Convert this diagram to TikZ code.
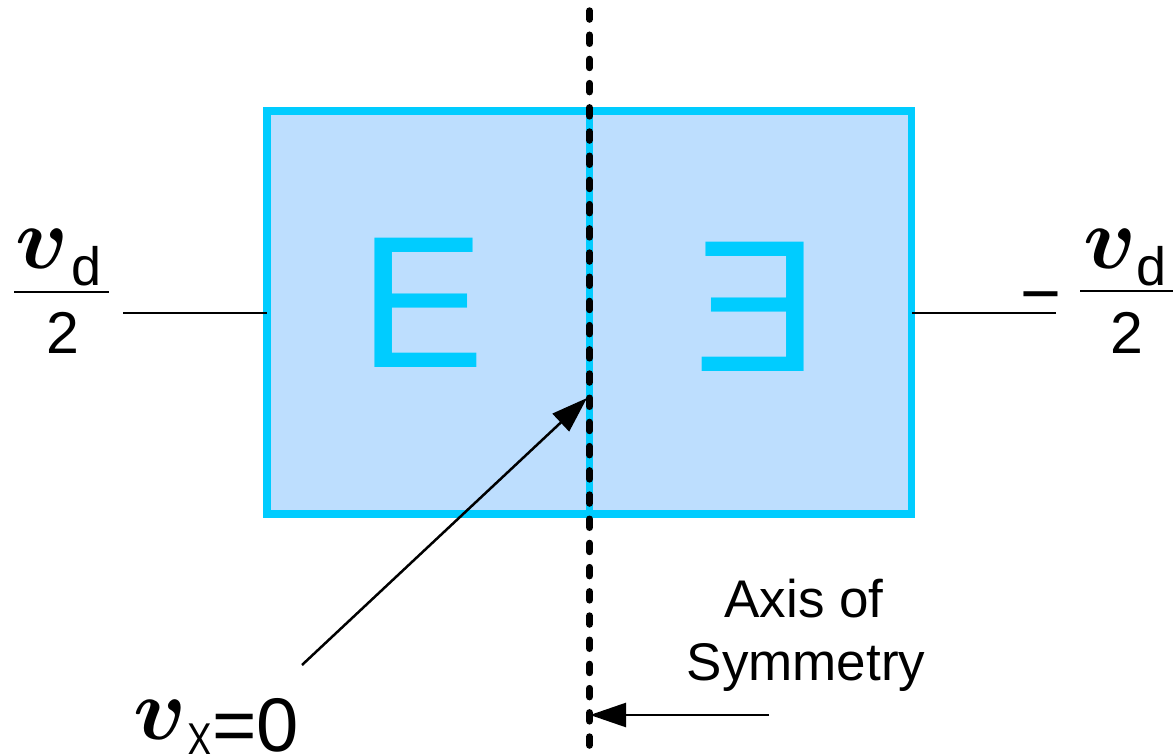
\documentclass[tikz,border=0pt]{standalone}
\usepackage{amsmath}
\usepackage{fontspec}
\setmainfont{Liberation Sans}
\usetikzlibrary{arrows.meta}
\definecolor{cyanline}{RGB}{0,204,255}
\definecolor{boxfill}{RGB}{189,222,254}
\newcommand{\bigv}{\scalebox{8.8}{$\boldsymbol{v}$}}
\begin{document}
\begin{tikzpicture}[x=1pt,y=-1pt,
  txt/.style={inner sep=0pt, outer sep=0pt},
  wire/.style={line width=2.5pt, black},
  ptr/.style={line width=2.5pt, -{Triangle[length=36pt,width=24pt]}},
  panel/.style={draw=cyanline, fill=boxfill, line width=7.5pt, minimum width=644.5pt, minimum height=403pt, inner sep=0pt, outer sep=0pt},
  axisline/.style={line width=7pt, black, line cap=round, dash pattern=on 8.5pt off 15.7pt},
  bigE/.style={txt, anchor=base, text=cyanline, font=\fontsize{188}{188}\selectfont},
  mathv/.style={txt, anchor=base west, font=\fontsize{10}{12}\selectfont},
  subd/.style={txt, anchor=base west, font=\fontsize{54}{54}\selectfont},
  two/.style={txt, anchor=base, font=\fontsize{59}{59}\selectfont},
  axtext/.style={txt, anchor=base, font=\fontsize{53}{53}\selectfont}
]
\useasboundingbox (0,0) rectangle (1173,754);
% block
\node[panel] (box) at (589.25,312.5) {};
\draw[cyanline, line width=7pt] (box.north) -- (box.south);
\node[bigE] (e1) at (422,367) {E};
\node[bigE] (e2) at (757,371) {\scalebox{-1}[1]{E}};
% wires
\coordinate (lw) at (123,313);
\coordinate (rw) at (1056,313);
\draw[wire] (lw) -- (lw -| box.west);
\draw[wire] (rw) -- (rw -| box.east);
% axis of symmetry
\coordinate (atop) at (589.5,10.8);
\coordinate (abot) at (589.5,775);
\draw[axisline] (atop) -- (abot);
% left label
\node[mathv] (lv) at (16,269) {\bigv};
\node[subd] (ld) at (71,285) {d};
\draw[line width=2.5pt] (14,292) -- (109,292);
\node[two] (l2) at (62.5,353) {2};
% right label
\node[txt, anchor=base, font=\fontsize{70}{70}\selectfont] (rminus) at (1040.5,317) {−};
\node[mathv] (rv) at (1083,269) {\bigv};
\node[subd] (rd) at (1136,285) {d};
\draw[line width=2.5pt] (1080,291) -- (1173,291);
\node[two] (r2) at (1127,353) {2};
% v_X = 0
\node[mathv] (vv) at (133,739) {\bigv};
\node[txt, anchor=base west, font=\fontsize{46}{46}\selectfont] (vx) at (187,755) {\scalebox{0.8}[1]{X}};
\node[txt, anchor=base west, font=\fontsize{76}{76}\selectfont] (veq) at (212,751) {=0};
\coordinate (vxs) at (302,665);
\coordinate (vxt) at (587,398);
\draw[ptr] (vxs) -- (vxt);
% axis label
\node[axtext] (ax1) at (804,617) {Axis of};
\node[axtext] (ax2) at (806,680) {Symmetry};
\coordinate (sas) at (769,715);
\coordinate (sat) at (590,715);
\draw[ptr] (sas) -- (sat);
\end{tikzpicture}
\end{document}
